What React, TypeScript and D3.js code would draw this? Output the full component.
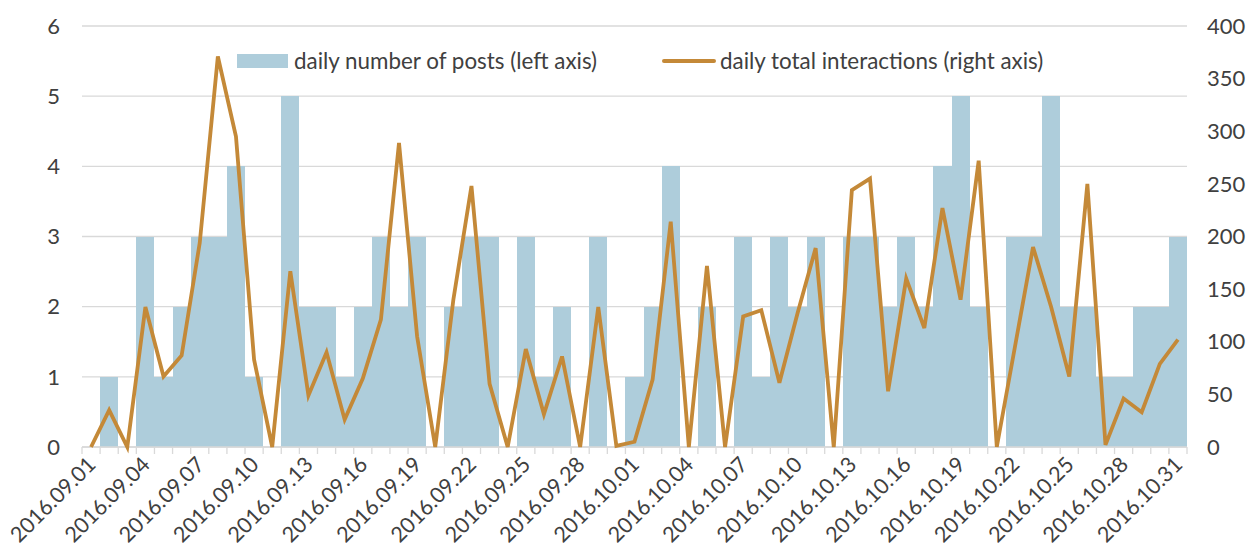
import React from "react";
import * as d3 from "d3";

const days: string[] = [
  "2016.09.01","2016.09.02","2016.09.03","2016.09.04","2016.09.05","2016.09.06","2016.09.07","2016.09.08","2016.09.09","2016.09.10",
  "2016.09.11","2016.09.12","2016.09.13","2016.09.14","2016.09.15","2016.09.16","2016.09.17","2016.09.18","2016.09.19","2016.09.20",
  "2016.09.21","2016.09.22","2016.09.23","2016.09.24","2016.09.25","2016.09.26","2016.09.27","2016.09.28","2016.09.29","2016.09.30",
  "2016.10.01","2016.10.02","2016.10.03","2016.10.04","2016.10.05","2016.10.06","2016.10.07","2016.10.08","2016.10.09","2016.10.10",
  "2016.10.11","2016.10.12","2016.10.13","2016.10.14","2016.10.15","2016.10.16","2016.10.17","2016.10.18","2016.10.19","2016.10.20",
  "2016.10.21","2016.10.22","2016.10.23","2016.10.24","2016.10.25","2016.10.26","2016.10.27","2016.10.28","2016.10.29","2016.10.30",
  "2016.10.31",
];

const posts: number[] = [
  0, 1, 0, 3, 1, 2, 3, 3, 4, 1,
  0, 5, 2, 2, 1, 2, 3, 2, 3, 0,
  2, 3, 3, 0, 3, 1, 2, 0, 3, 0,
  1, 2, 4, 0, 2, 0, 3, 1, 3, 2,
  3, 0, 3, 3, 2, 3, 2, 4, 5, 2,
  0, 3, 3, 5, 2, 2, 1, 1, 2, 2,
  3,
];

const interactions: number[] = [
  0, 35, 0, 133, 67, 87, 194, 371, 295, 83,
  0, 167, 49, 90, 26, 65, 121, 289, 105, 0,
  140, 248, 60, 0, 93, 31, 86, 0, 133, 1,
  5, 64, 214, 0, 172, 0, 124, 130, 61, 127,
  189, 0, 244, 255, 53, 160, 113, 227, 140, 272,
  0, 95, 190, 133, 67, 250, 2, 46, 33, 79,
  102,
];

const leftTicks: number[] = [0, 1, 2, 3, 4, 5, 6];
const rightTicks: number[] = [0, 50, 100, 150, 200, 250, 300, 350, 400];
const legendLabels: string[] = ["daily number of posts (left axis)", "daily total interactions (right axis)"];

const W = 1248;
const H = 549;
const FONT = "Lato, 'Noto Sans', sans-serif";
const TEXT = "#404040";
const BAR = "#aecddb";
const LINE = "#c48938";
const GRID = "#d9d9d9";
const FS = 22;

export default function App() {
  const x = d3.scaleBand<string>().domain(days).range([82, 1187]).padding(0);
  const yL = d3.scaleLinear().domain([0, 6]).range([447, 26]);
  const yR = d3.scaleLinear().domain([0, 400]).range([447, 26]);
  const bw = x.bandwidth();
  const cx = (d: string) => (x(d) as number) + bw / 2;

  const linePath = d3
    .line<number>()
    .x((_, i) => cx(days[i]))
    .y((v) => yR(v))(interactions) as string;

  const tickXs = days.map((d) => x(d) as number).concat([1187]);

  return (
    <svg
      width={W}
      height={H}
      style={{ position: "absolute", left: 0, top: 0, background: "#fff" }}
      fontFamily={FONT}
    >
      <rect x={0} y={0} width={W} height={H} fill="#fff" />
      {leftTicks.map((t) => (
        <line key={"g" + t} x1={82} x2={1187} y1={yL(t)} y2={yL(t)} stroke={GRID} strokeWidth={1.3} />
      ))}
      <g shapeRendering="crispEdges">
        {days.map((d, i) => {
          const x0 = Math.round(x(d) as number);
          const x1 = Math.round((x(d) as number) + bw);
          return (
            <rect
              key={"b" + d}
              x={x0}
              y={yL(posts[i])}
              width={x1 - x0}
              height={yL(0) - yL(posts[i])}
              fill={BAR}
            />
          );
        })}
      </g>
      <line x1={82} x2={1187} y1={yL(0)} y2={yL(0)} stroke={GRID} strokeWidth={1.3} />
      {tickXs.map((tx, i) => (
        <line key={"t" + i} x1={tx} x2={tx} y1={yL(0)} y2={yL(0) + 7} stroke={GRID} strokeWidth={1.3} />
      ))}
      <path d={linePath} fill="none" stroke={LINE} strokeWidth={3.8} strokeLinejoin="miter" />
      {leftTicks.map((t) => (
        <text key={"l" + t} x={60} y={yL(t)} dy="0.35em" textAnchor="end" fontSize={FS} fill={TEXT}>
          {t}
        </text>
      ))}
      {rightTicks.map((t) => (
        <text key={"r" + t} x={1207} y={yR(t)} dy="0.35em" textAnchor="start" fontSize={FS} fill={TEXT}>
          {t}
        </text>
      ))}
      {days.map((d, i) =>
        i % 3 === 0 ? (
          <text
            key={"x" + d}
            transform={`translate(${cx(d) + 6},${yL(0) + 19}) rotate(-45)`}
            textAnchor="end"
            fontSize={21.5}
            fill={TEXT}
          >
            {d}
          </text>
        ) : null
      )}
      <rect x={237} y={54} width={51} height={14} fill={BAR} />
      <text x={294} y={61} dy="0.35em" fontSize={22.4} fill={TEXT}>
        {legendLabels[0]}
      </text>
      <line x1={664} x2={714} y1={61} y2={61} stroke={LINE} strokeWidth={4} strokeLinecap="round" />
      <text x={720} y={61} dy="0.35em" fontSize={22.4} fill={TEXT}>
        {legendLabels[1]}
      </text>
    </svg>
  );
}
